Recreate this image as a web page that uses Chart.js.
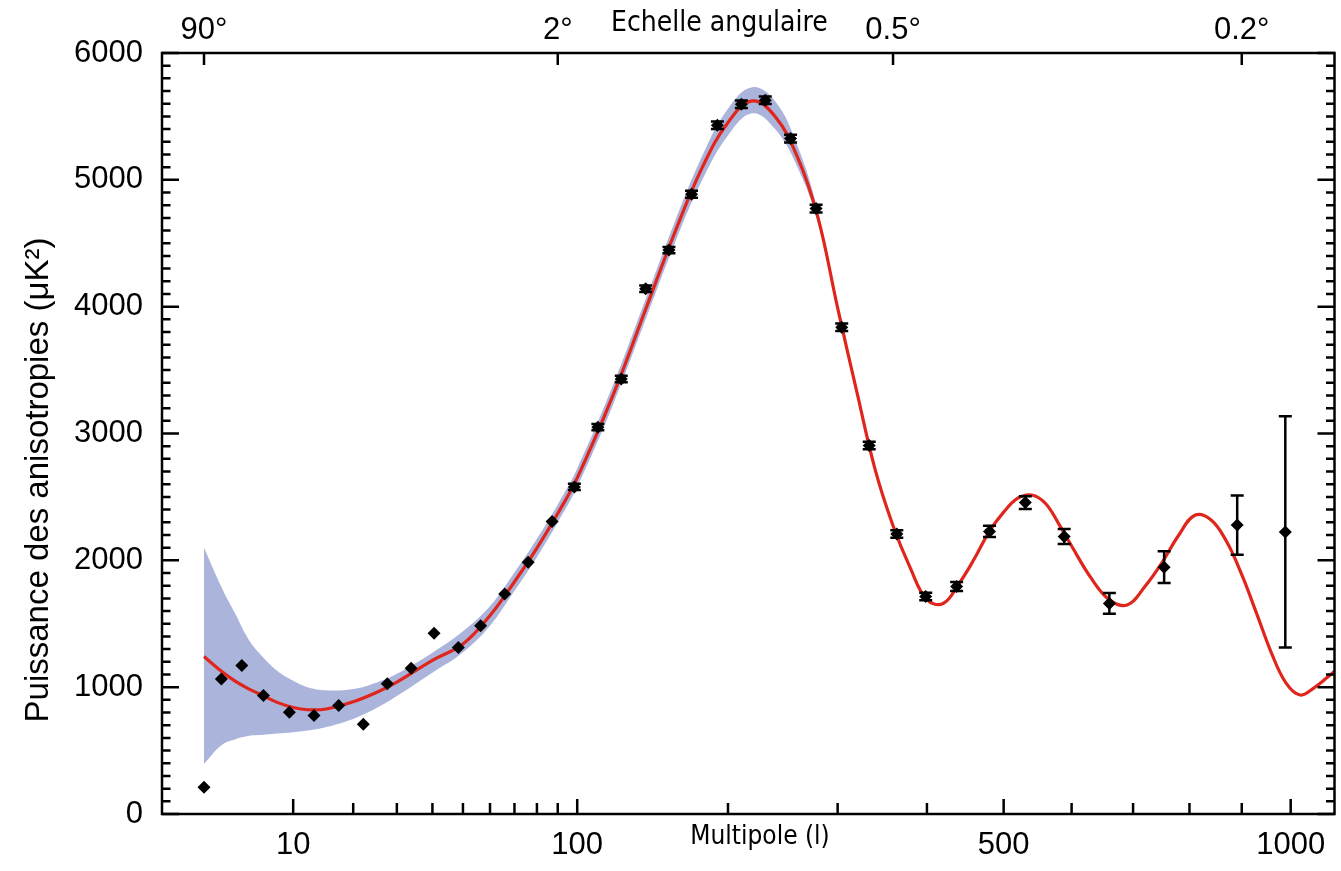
<!DOCTYPE html>
<html lang="fr">
<head>
<meta charset="UTF-8">
<title>Spectre de puissance des anisotropies</title>
<script src="https://cdn.jsdelivr.net/npm/chart.js"></script>
<style>
  html, body { margin: 0; padding: 0; background: #fff; }
  .chart-box { position: relative; width: 1341px; height: 871px; }
</style>
</head>
<body>
<div class="chart-box"><canvas id="spectrumChart"></canvas></div>
<script>
// bottom axis: multipole l
const multipoleTicks = [10, 100, 500, 1000];
const multipoleMinorTicks = [20, 30, 40, 50, 60, 70, 80, 90, 200, 300, 400, 600, 700, 800, 900];
// top axis: angular scale, placed at the matching multipole
const angleTickL = [2, 90, 360, 900];
const angleTickLabels = ['90°', '2°', '0.5°', '0.2°'];

// measured band powers (l, value, error)
const pointL = [2, 3, 4.5, 6.5, 9.5, 13, 17.2, 22.1, 27.6, 33.8, 40.5, 48.4, 56.4, 65.9, 76, 87.2, 98.5,
  111.3, 125, 140.3, 155.9, 172, 191.6, 210.9, 231.3, 254.1, 278.4, 304.2, 333.4, 364.3, 398.5,
  437.1, 480.5, 530.7, 588.5, 660.3, 754.1, 891, 988.7];
const pointV = [211, 1065, 1171, 934, 803, 776, 855, 708, 1026, 1150, 1426, 1313, 1484, 1734, 1984, 2307, 2579,
  3050, 3430, 4141, 4446, 4886, 5430, 5596, 5627, 5325, 4773, 3838, 2905, 2208, 1715,
  1794, 2228, 2455, 2188, 1660, 1946, 2278, 2224];
const pointErr = [0, 0, 0, 0, 0, 0, 0, 0, 0, 0, 0, 0, 0, 0, 0, 0, 25,
  25, 25, 25, 25, 28, 30, 30, 30, 30, 30, 30, 30, 30, 30,
  35, 45, 50, 59, 82, 125, 234, 912];

// best-fit model curve
const modelL = [2, 3, 4, 5, 6, 8, 10, 12, 15, 20, 25, 30, 40, 50, 60, 70, 80, 90, 100, 120, 140, 160, 180, 200,
  220, 240, 260, 280, 300, 320, 340, 360, 380, 400, 420, 440, 460, 480, 500, 520, 540, 560, 580, 600,
  630, 660, 690, 720, 750, 780, 810, 840, 870, 900, 930, 960, 990, 1020, 1050, 1080, 1095];
const modelV = [1242, 1125, 1045, 990, 950, 880, 840, 822, 828, 885, 958, 1040, 1212, 1340, 1565, 1831, 2097, 2369, 2650, 3300, 3970, 4585, 5098, 5452,
  5622, 5500, 5190, 4710, 3990, 3330, 2713, 2273, 1940, 1690, 1660, 1815, 2010, 2225, 2380, 2490, 2515, 2450, 2290, 2113,
  1865, 1690, 1648, 1792, 1980, 2196, 2355, 2320, 2150, 1887, 1578, 1269, 1034, 938, 995, 1080, 1125];

// cosmic variance band around the model
const bandL = [2, 3, 4, 5, 6, 8, 10, 12, 15, 20, 25, 30, 40, 50, 60, 70, 80, 90, 100, 120, 140, 160, 180, 200,
  220, 240, 260, 280, 300];
const bandUpper = [2100, 1790, 1574, 1388, 1275, 1129, 1050, 1000, 975, 985, 1035, 1105, 1272, 1440, 1640, 1905, 2170, 2440, 2725, 3380, 4050, 4670, 5190, 5560,
  5730, 5620, 5280, 4760, 4010];
const bandLower = [395, 543, 590, 615, 622, 635, 645, 658, 686, 750, 835, 930, 1114, 1275, 1485, 1760, 2025, 2300, 2580, 3225, 3890, 4500, 5000, 5350,
  5525, 5400, 5110, 4670, 3970];

const yMinorStep = 100;
const POW = 0.4;

// axis that spaces l as l^0.4 (the original figure's x scale)
class PowerScale extends Chart.LinearScale {
  configure() {
    super.configure();
    this._pMin = Math.pow(this.min, POW);
    this._pMax = Math.pow(this.max, POW);
  }
  getPixelForValue(value) {
    if (value === null || value === undefined || isNaN(value)) return NaN;
    return this.getPixelForDecimal((Math.pow(value, POW) - this._pMin) / (this._pMax - this._pMin));
  }
  getValueForPixel(pixel) {
    const d = this.getDecimalForPixel(pixel);
    return Math.pow(this._pMin + d * (this._pMax - this._pMin), 1 / POW);
  }
}
PowerScale.id = 'power';
PowerScale.defaults = Chart.LinearScale.defaults;
Chart.register(PowerScale);

Chart.defaults.font.family = "'Liberation Sans', Arial, sans-serif";
Chart.defaults.color = '#000';

const toXY = (xs, ys) => xs.map((x, i) => ({ x: x, y: ys[i] }));

// frame with inward ticks on all four sides
const frameTicks = {
  id: 'frameTicks',
  afterDraw(chart) {
    const { ctx, chartArea: a, scales } = chart;
    ctx.save();
    ctx.strokeStyle = '#000';
    ctx.lineWidth = 2.5;
    ctx.beginPath();
    for (let v = 0; v <= 6000; v += yMinorStep) {
      const py = scales.y.getPixelForValue(v);
      const len = v % 1000 === 0 ? 17 : 8.5;
      ctx.moveTo(a.left, py); ctx.lineTo(a.left + len, py);
      ctx.moveTo(a.right, py); ctx.lineTo(a.right - len, py);
    }
    multipoleTicks.forEach(l => {
      const px = scales.x.getPixelForValue(l);
      ctx.moveTo(px, a.bottom); ctx.lineTo(px, a.bottom - 15);
    });
    multipoleMinorTicks.forEach(l => {
      const px = scales.x.getPixelForValue(l);
      ctx.moveTo(px, a.bottom); ctx.lineTo(px, a.bottom - 11);
    });
    angleTickL.forEach(l => {
      const px = scales.xTop.getPixelForValue(l);
      ctx.moveTo(px, a.top); ctx.lineTo(px, a.top + 12);
    });
    ctx.stroke();
    ctx.strokeRect(a.left, a.top, a.right - a.left, a.bottom - a.top);
    ctx.restore();
  }
};

const errorBars = {
  id: 'errorBars',
  afterDatasetsDraw(chart) {
    const { ctx, scales: { x, y } } = chart;
    ctx.save();
    ctx.strokeStyle = '#000';
    ctx.lineWidth = 2.5;
    pointL.forEach((l, i) => {
      const e = pointErr[i];
      if (!e) return;
      const px = x.getPixelForValue(l);
      const top = y.getPixelForValue(pointV[i] + e);
      const bot = y.getPixelForValue(pointV[i] - e);
      ctx.beginPath();
      ctx.moveTo(px, top); ctx.lineTo(px, bot);
      ctx.moveTo(px - 6.5, top); ctx.lineTo(px + 6.5, top);
      ctx.moveTo(px - 6.5, bot); ctx.lineTo(px + 6.5, bot);
      ctx.stroke();
    });
    ctx.restore();
  }
};

// axis titles placed as in the original figure
const axisTitles = {
  id: 'axisTitles',
  afterDraw(chart) {
    const ctx = chart.ctx;
    ctx.save();
    ctx.fillStyle = '#000';
    ctx.textBaseline = 'alphabetic';
    ctx.font = "28px 'DejaVu Sans Condensed', 'DejaVu Sans', sans-serif";
    ctx.textAlign = 'left';
    ctx.fillText('Echelle angulaire', 611, 31);
    ctx.font = "26px 'DejaVu Sans Condensed', 'DejaVu Sans', sans-serif";
    ctx.textAlign = 'center';
    ctx.fillText('Multipole (l)', 760, 844);
    ctx.translate(48, 480);
    ctx.rotate(-Math.PI / 2);
    ctx.font = "33px 'Liberation Sans', Arial, sans-serif";
    ctx.fillText('Puissance des anisotropies (μK²)', 0, 0);
    ctx.restore();
  }
};

const ctx = document.getElementById('spectrumChart').getContext('2d');
new Chart(ctx, {
  type: 'line',
  data: {
    datasets: [
      {
        label: 'Mesures',
        data: toXY(pointL, pointV),
        showLine: false,
        pointStyle: 'rectRot',
        pointRadius: 6.5,
        pointBackgroundColor: '#000',
        pointBorderWidth: 0,
        order: 0
      },
      {
        label: 'Modèle',
        data: toXY(modelL, modelV),
        borderColor: '#e0261c',
        borderWidth: 3.2,
        pointRadius: 0,
        tension: 0.4,
        fill: false,
        order: 1
      },
      {
        label: 'Variance cosmique haut',
        data: toXY(bandL, bandUpper),
        borderWidth: 0,
        pointRadius: 0,
        tension: 0.4,
        backgroundColor: '#abb4db',
        fill: '+1',
        order: 2
      },
      {
        label: 'Variance cosmique bas',
        data: toXY(bandL, bandLower),
        borderWidth: 0,
        pointRadius: 0,
        tension: 0.4,
        fill: false,
        order: 3
      }
    ]
  },
  options: {
    responsive: true,
    maintainAspectRatio: false,
    animation: false,
    layout: { padding: { right: 3 } },
    plugins: {
      legend: { display: false },
      tooltip: { enabled: false }
    },
    scales: {
      x: {
        type: 'power',
        position: 'bottom',
        min: 0.5,
        max: 1095,
        grid: { display: false },
        border: { display: false },
        ticks: {
          autoSkip: false,
          maxRotation: 0,
          padding: 5,
          font: { size: 31 },
          callback: v => String(v)
        },
        afterBuildTicks: s => { s.ticks = multipoleTicks.map(v => ({ value: v })); },
        afterFit: s => { s.height = 57; }
      },
      xTop: {
        type: 'power',
        position: 'top',
        min: 0.5,
        max: 1095,
        grid: { display: false },
        border: { display: false },
        ticks: {
          autoSkip: false,
          maxRotation: 0,
          padding: 2,
          font: { size: 31, lineHeight: 0.8 },
          callback: (v, i) => angleTickLabels[i]
        },
        afterBuildTicks: s => { s.ticks = angleTickL.map(v => ({ value: v })); },
        afterFit: s => { s.height = 53; }
      },
      y: {
        type: 'linear',
        min: 0,
        max: 6000,
        grid: { display: false },
        border: { display: false },
        ticks: {
          stepSize: 1000,
          padding: 11,
          font: { size: 31 },
          callback: v => String(v)
        },
        afterFit: s => { s.width = 162; }
      }
    }
  },
  plugins: [frameTicks, errorBars, axisTitles]
});
</script>
</body>
</html>
